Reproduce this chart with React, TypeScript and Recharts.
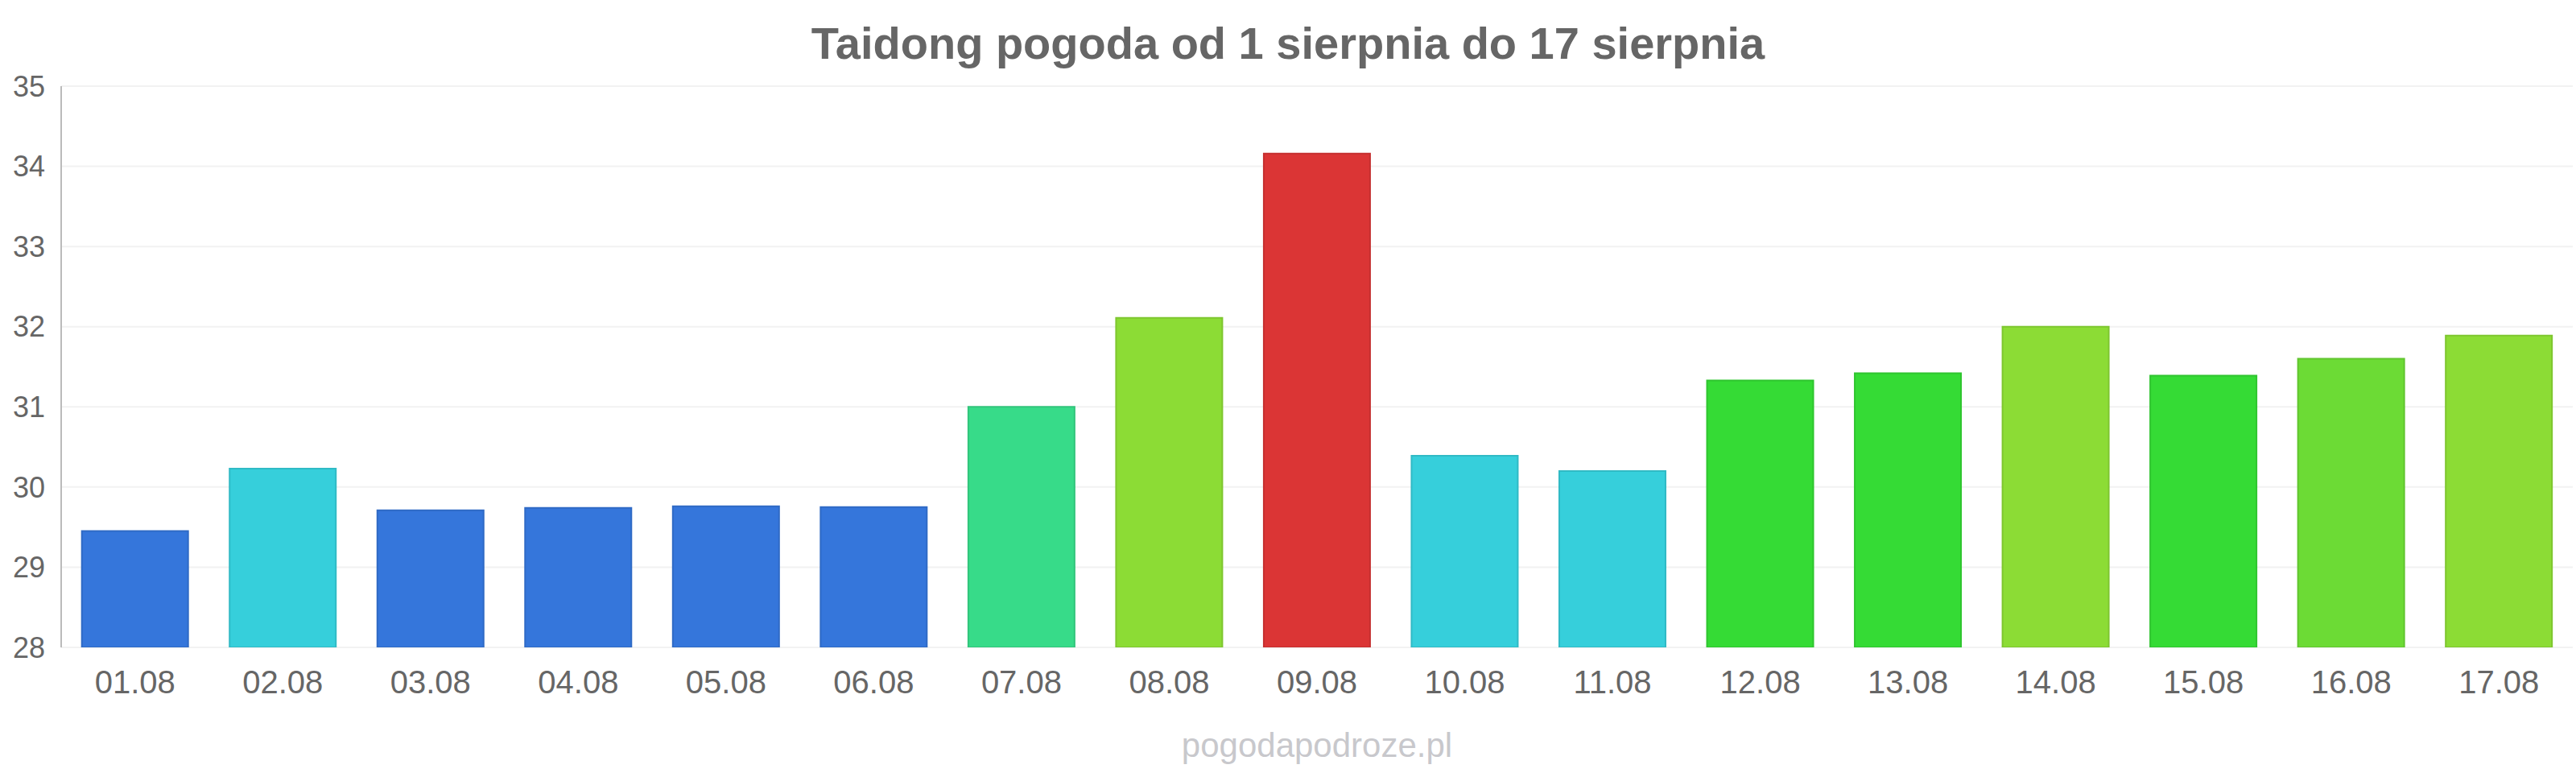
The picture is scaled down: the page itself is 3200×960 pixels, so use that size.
import React from 'react';
import { BarChart, Bar, XAxis, YAxis, CartesianGrid, Cell } from 'recharts';

const days = [
  '01.08', '02.08', '03.08', '04.08', '05.08', '06.08', '07.08', '08.08', '09.08',
  '10.08', '11.08', '12.08', '13.08', '14.08', '15.08', '16.08', '17.08',
];

const temps = [
  29.45, 30.23, 29.71, 29.74, 29.76, 29.75, 31.0, 32.11, 34.16,
  30.39, 30.2, 31.33, 31.42, 32.0, 31.39, 31.6, 31.89,
];

const barColors = [
  '#3576DB', '#36CFDB', '#3576DB', '#3576DB', '#3576DB', '#3576DB', '#37DB89', '#8CDC35', '#DB3535',
  '#36CFDB', '#36CFDB', '#35DB35', '#35DB35', '#8CDC35', '#35DB35', '#6CDB35', '#8CDC35',
];

const barStrokes = [
  '#2F6AC5', '#30BAC5', '#2F6AC5', '#2F6AC5', '#2F6AC5', '#2F6AC5', '#31C57B', '#7EC62F', '#C52F2F',
  '#30BAC5', '#30BAC5', '#2FC52F', '#2FC52F', '#7EC62F', '#2FC52F', '#61C52F', '#7EC62F',
];

const yTicks = [28, 29, 30, 31, 32, 33, 34, 35];

const title = 'Taidong pogoda od 1 sierpnia do 17 sierpnia';
const watermark = 'pogodapodroze.pl';

const font = '"Liberation Sans", Arial, sans-serif';

const App: React.FC = () => {
  const data = days.map((d, i) => ({ day: d, temp: temps[i] }));

  return (
    <div style={{ position: 'absolute', left: 0, top: 0, width: 3200, height: 960, background: '#fff' }}>
      <BarChart
        width={3200}
        height={960}
        data={data}
        margin={{ top: 107, right: 4, left: 0, bottom: 126 }}
        barCategoryGap="14%"
      >
        <CartesianGrid vertical={false} stroke="#f2f2f2" strokeWidth={2} />
        <XAxis
          dataKey="day"
          height={30}
          axisLine={false}
          tickLine={false}
          interval={0}
          tickSize={10}
          tickMargin={19}
          tick={{ fill: '#666', fontSize: 40, fontFamily: font }}
        />
        <YAxis
          width={76}
          domain={[28, 35]}
          ticks={yTicks}
          allowDataOverflow
          axisLine={{ stroke: '#bbb', strokeWidth: 2 }}
          tickLine={false}
          tickSize={8}
          tickMargin={12}
          tick={{ fill: '#666', fontSize: 36, fontFamily: font }}
        />
        <Bar dataKey="temp" isAnimationActive={false} strokeWidth={2}>
          {data.map((_, i) => (
            <Cell key={i} fill={barColors[i]} stroke={barStrokes[i]} />
          ))}
        </Bar>
      </BarChart>

      {/* titulek i znak wodny */}
      <svg
        width={3200}
        height={960}
        style={{ position: 'absolute', left: 0, top: 0, pointerEvents: 'none' }}
      >
        <text
          x={1600}
          y={73}
          textAnchor="middle"
          fill="#666"
          fontSize={56}
          fontWeight="bold"
          fontFamily={font}
        >
          {title}
        </text>
        <text
          x={1636}
          y={940}
          textAnchor="middle"
          fill="#c8c8cc"
          fontSize={42}
          fontFamily={font}
        >
          {watermark}
        </text>
      </svg>
    </div>
  );
};

export default App;
